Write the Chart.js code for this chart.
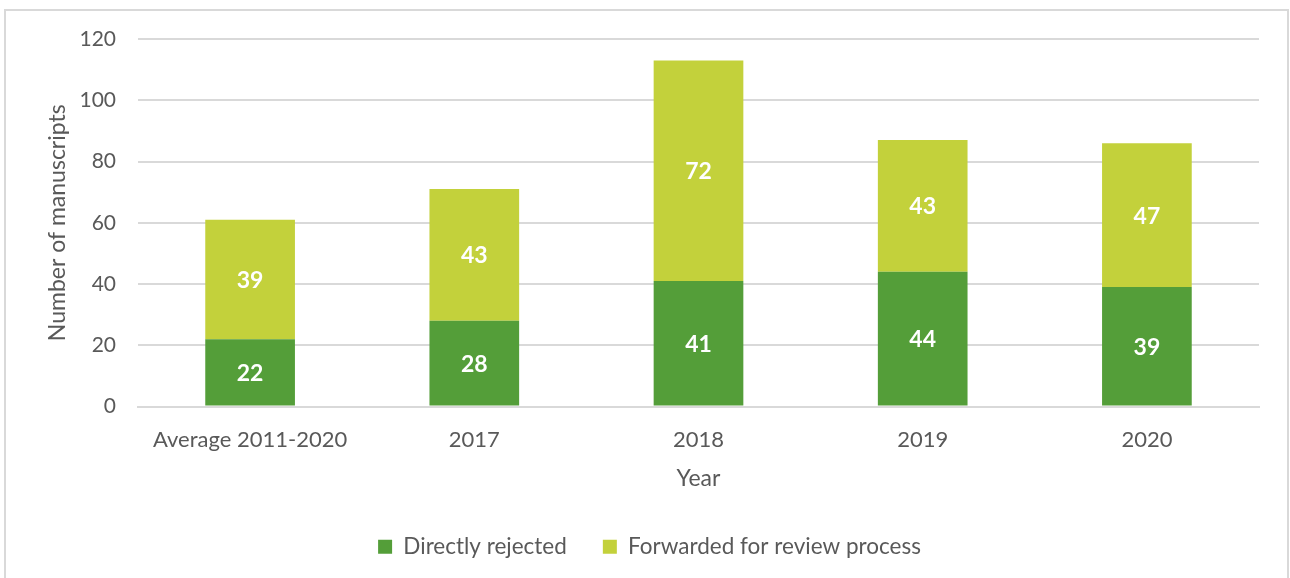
<!DOCTYPE html>
<html lang="en">
<head>
  <meta charset="UTF-8">
  <title>Manuscripts</title>
  <style>
    body {
      margin: 0;
      background: #fff;
      font-family: 'Lato', sans-serif;
    }
    .marco {
      position: absolute;
      left: 4px;
      top: 9px;
      width: 1285px;
      height: 600px;
      border: 2px solid #d9d9d9;
      box-sizing: border-box;
    }
    #grafico {
      position: absolute;
      left: 0;
      top: 0;
    }
  </style>
  <script src="https://cdn.jsdelivr.net/npm/chart.js"></script>
</head>
<body>
  <div class="marco"></div>
  <canvas id="grafico" width="1290" height="578"></canvas>

  <script>
    const categorias = ['Average 2011-2020', '2017', '2018', '2019', '2020'];
    const rechazados = [22, 28, 41, 44, 39];
    const revision = [39, 43, 72, 43, 47];
    const ticksY = [0, 20, 40, 60, 80, 100, 120];

    const gris = '#595959';
    const fuente = 'Lato';

    // etiquetas blancas en el centro de cada segmento
    const etiquetas = {
      id: 'etiquetas',
      afterDatasetsDraw(chart) {
        const ctx = chart.ctx;
        ctx.save();
        ctx.fillStyle = '#fff';
        ctx.font = 'bold 23px ' + fuente;
        ctx.textAlign = 'center';
        ctx.textBaseline = 'middle';
        chart.data.datasets.forEach((ds, i) => {
          chart.getDatasetMeta(i).data.forEach((bar, j) => {
            ctx.fillText(ds.data[j], bar.x, (bar.y + bar.base) / 2 + 1);
          });
        });
        ctx.restore();
      }
    };

    new Chart(document.getElementById('grafico'), {
      type: 'bar',
      data: {
        labels: categorias,
        datasets: [
          { label: 'Directly rejected', data: rechazados, backgroundColor: '#549e39' },
          { label: 'Forwarded for review process', data: revision, backgroundColor: '#c3d13b' }
        ]
      },
      options: {
        responsive: false,
        animation: false,
        layout: { padding: { left: 40, right: 31, top: 39, bottom: 10 } },
        datasets: { bar: { categoryPercentage: 1, barPercentage: 0.4 } },
        scales: {
          x: {
            stacked: true,
            grid: { display: false },
            border: { color: '#d9d9d9', width: 2 },
            ticks: { color: gris, font: { family: fuente, size: 22 }, padding: 12 },
            title: { display: true, text: 'Year', color: gris, font: { family: fuente, size: 23 }, padding: { top: 4, bottom: 7 } },
            afterFit(scale) { scale.height = 93; }
          },
          y: {
            stacked: true,
            min: 0,
            max: 120,
            afterBuildTicks(scale) { scale.ticks = ticksY.map(v => ({ value: v })); },
            grid: { color: '#d9d9d9', lineWidth: 2, drawTicks: false },
            border: { display: false },
            ticks: { color: gris, font: { family: fuente, size: 21 }, padding: 22 },
            title: { display: true, text: 'Number of manuscripts', color: gris, font: { family: fuente, size: 23 } },
            afterFit(scale) { scale.width = 98; }
          }
        },
        plugins: {
          legend: {
            position: 'bottom',
            labels: {
              color: gris,
              font: { family: fuente, size: 22.5 },
              boxWidth: 14,
              boxHeight: 14,
              padding: 36
            }
          },
          tooltip: { enabled: false }
        }
      },
      plugins: [etiquetas]
    });
  </script>
</body>
</html>
